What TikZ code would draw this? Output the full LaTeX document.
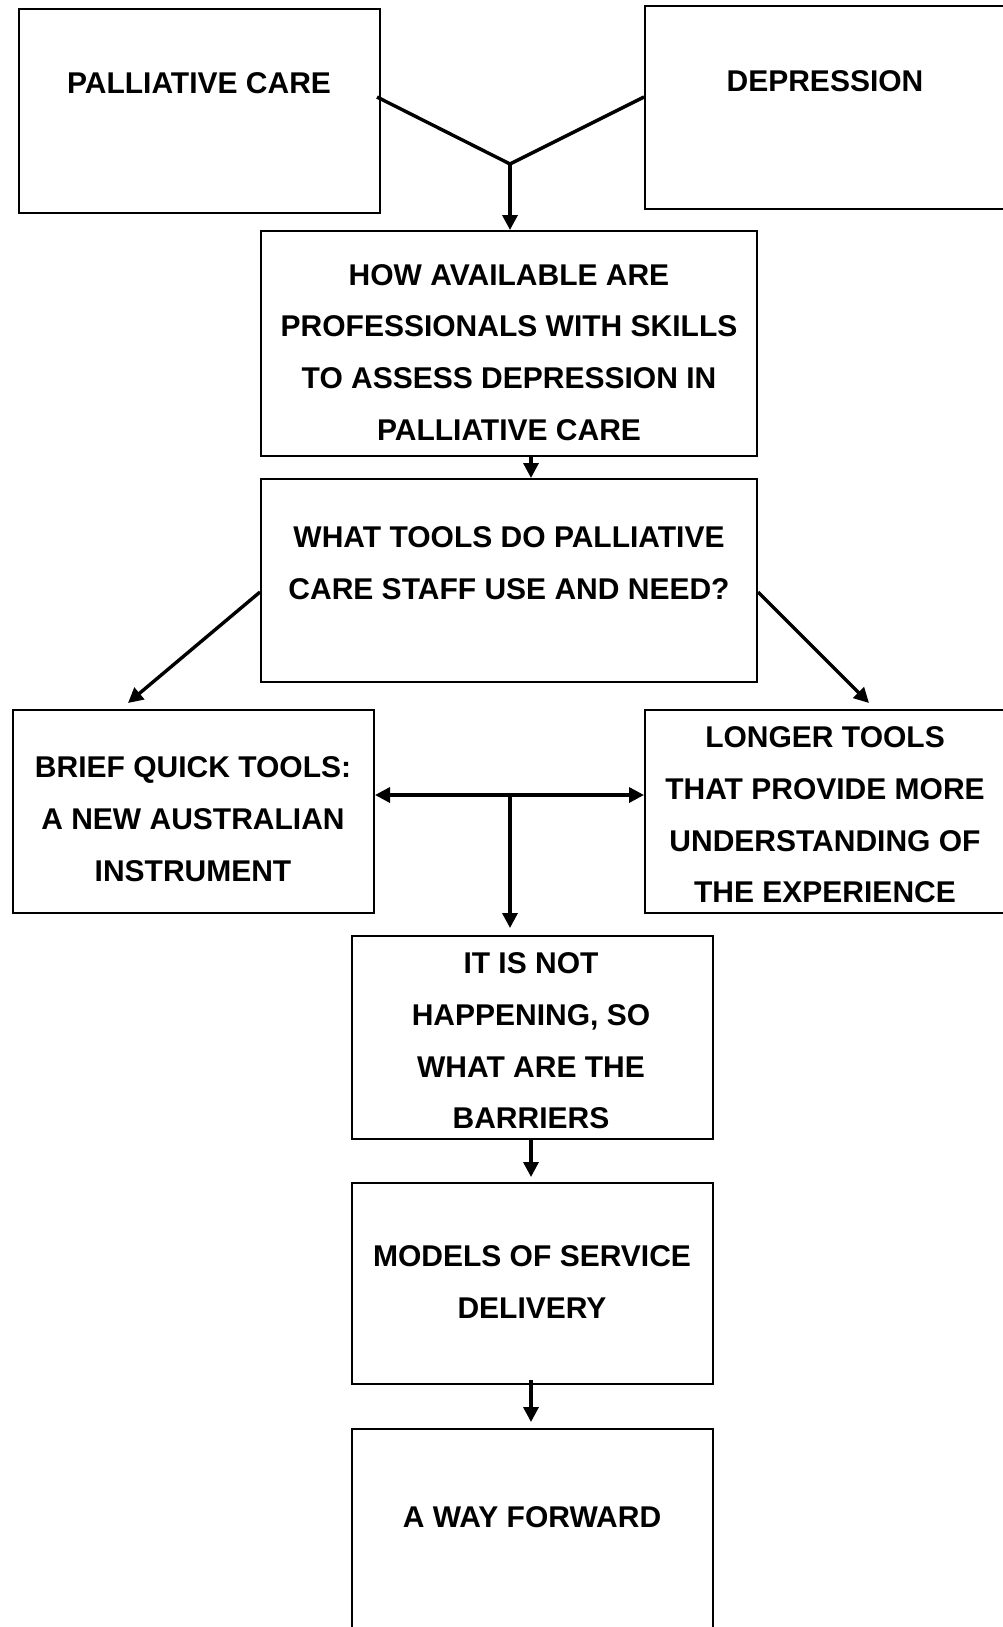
\documentclass[tikz,border=0pt]{standalone}
\usepackage{fontspec}
\setmainfont{Liberation Sans}
\usetikzlibrary{arrows.meta}

\begin{document}
\begin{tikzpicture}[
    x=1pt, y=-1pt,
    box/.style={rectangle, draw, line width=2pt, minimum width=361pt, minimum height=203pt, inner sep=0pt},
    wide/.style={box, minimum width=496pt},
    boxtext/.style={align=center, inner sep=0pt, font=\fontsize{30}{51.7}\selectfont\bfseries},
    link/.style={line width=3.4pt},
    arrow/.style={->, line width=3.4pt, >={Triangle[length=15pt,width=15pt]}}
]
\useasboundingbox (0,0) rectangle (1003,1627);

% Boxes
\node[box] (care) at (199.5,111) {};
\node[box] (depr) at (825.5,107.5) {};
\node[wide, minimum height=225pt] (avail) at (509,343.5) {};
\node[wide] (tools) at (509,580.5) {};
\node[box] (brief) at (193.5,811.5) {};
\node[box] (longer) at (825.5,811.5) {};
\node[box] (barriers) at (532.5,1037.5) {};
\node[box, minimum height=201pt] (models) at (532.5,1283.5) {};
\node[box] (forward) at (532.5,1530.5) {};

% Texts
\node[boxtext] (careT) at (199,83) {PALLIATIVE CARE};
\node[boxtext] (deprT) at (825,81) {DEPRESSION};
\node[boxtext] (availT) at (509,352.5) {HOW AVAILABLE ARE\\PROFESSIONALS WITH SKILLS\\TO ASSESS DEPRESSION IN\\PALLIATIVE CARE};
\node[boxtext] (toolsT) at (509,563) {WHAT TOOLS DO PALLIATIVE\\CARE STAFF USE AND NEED?};
\node[boxtext] (briefT) at (193,819) {BRIEF QUICK TOOLS:\\A NEW AUSTRALIAN\\INSTRUMENT};
\node[boxtext] (longerT) at (825,815) {LONGER TOOLS\\THAT PROVIDE MORE\\UNDERSTANDING OF\\THE EXPERIENCE};
\node[boxtext] (barriersT) at (531,1041) {IT IS NOT\\HAPPENING, SO\\WHAT ARE THE\\BARRIERS};
\node[boxtext] (modelsT) at (532,1282) {MODELS OF SERVICE\\DELIVERY};
\node[boxtext] (forwardT) at (532,1517) {A WAY FORWARD};

% Merge of the two topics
\coordinate (join) at (510,164);
\draw[link] ([xshift=-4pt,yshift=14pt]care.east) -- (join) -- ([yshift=10.5pt]depr.west);
\draw[arrow] (join) -- (join |- avail.north);
\draw[arrow] ([xshift=22pt]avail.south) -- ([xshift=22pt]tools.north);

% Split into the two kinds of tools
\draw[arrow] ([yshift=-11.5pt]tools.west) -- ([xshift=-65.5pt,yshift=6pt]brief.north);
\draw[arrow] ([yshift=-11.5pt]tools.east) -- ([xshift=43.5pt,yshift=6pt]longer.north);
\draw[arrow, <->] ([yshift=16.5pt]brief.east) -- ([yshift=16.5pt]longer.west);
\coordinate (split) at (510,795);
\draw[arrow] (split) -- ([xshift=-22.5pt,yshift=7pt]barriers.north);

% Way down
\draw[arrow] ([xshift=-1.5pt]barriers.south) -- ([xshift=-1.5pt,yshift=5pt]models.north);
\draw[arrow] ([xshift=-1.5pt,yshift=5pt]models.south) -- ([xshift=-1.5pt,yshift=6pt]forward.north);

\end{tikzpicture}
\end{document}
